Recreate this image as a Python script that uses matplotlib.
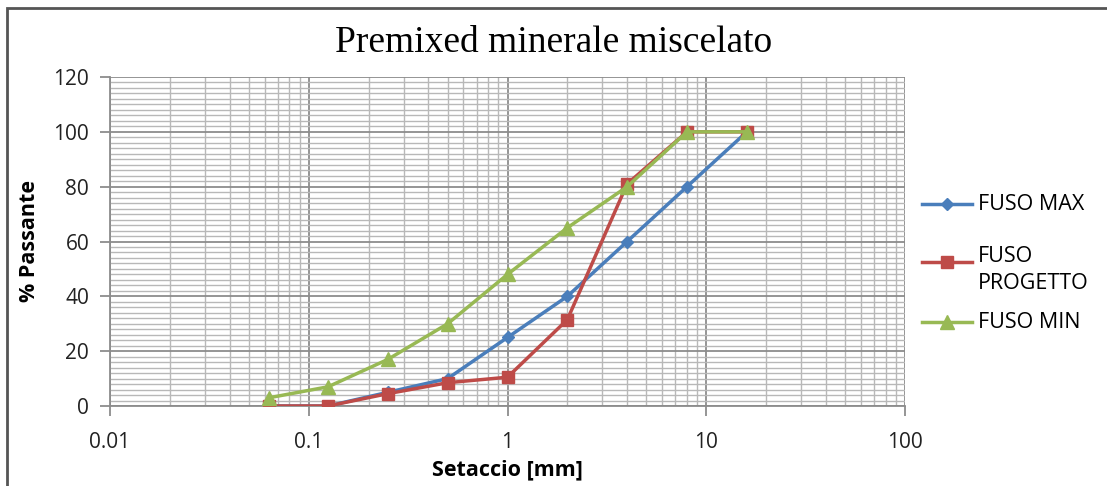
import numpy as np
import matplotlib.pyplot as plt
from matplotlib.lines import Line2D
from matplotlib.patches import Rectangle
from matplotlib.ticker import LogLocator, MultipleLocator, FixedLocator

# Curve granulometriche
setacci = [0.063, 0.125, 0.25, 0.5, 1, 2, 4, 8, 16]
fuso_max = [0, 0, 5, 10, 25, 40, 60, 80, 100]
fuso_progetto = [0, 0, 4.5, 8.5, 10.5, 31.5, 81, 100, 100]
fuso_min = [3, 7, 17, 30, 48, 65, 80, 100, 100]
etichette = ['FUSO MAX', 'FUSO\nPROGETTO', 'FUSO MIN']

clr_max = '#4a7ebb'
clr_prog = '#be4b48'
clr_min = '#98b954'

plt.rcParams['font.family'] = ['Open Sans', 'DejaVu Sans']

fig = plt.figure(figsize=(11.07, 4.86), dpi=100)
ax = fig.add_axes([110/1107, 1-406/486, 795/1107, 329/486])

ax.plot(setacci, fuso_max, '-D', color=clr_max, lw=2.5, ms=6, zorder=3)
ax.plot(setacci, fuso_progetto, '-s', color=clr_prog, lw=2.5, ms=8, zorder=4)
ax.plot(setacci, fuso_min, '-^', color=clr_min, lw=2.5, ms=10, zorder=5)

ax.set_xscale('log')
ax.set_xlim(0.01, 100)
ax.set_ylim(0, 120)
ax.xaxis.set_major_locator(FixedLocator([0.01, 0.1, 1, 10, 100]))
ax.set_xticklabels(['0.01', '0.1', '1', '10', '100'])
ax.xaxis.set_minor_locator(LogLocator(base=10, subs=np.arange(2, 10)))
ax.xaxis.set_minor_formatter(plt.NullFormatter())
ax.yaxis.set_major_locator(MultipleLocator(20))
ax.yaxis.set_minor_locator(MultipleLocator(2))

ax.grid(which='major', color='#8c8c8c', lw=1.3)
ax.grid(which='minor', color='#b8b8b8', lw=1.0)
ax.set_axisbelow(True)
ax.tick_params(which='major', length=7, width=1.3, color='#8c8c8c',
               labelsize=15, labelcolor='#222222', pad=8)
ax.tick_params(axis='x', pad=12)
ax.tick_params(which='minor', length=0)
for s in ['top', 'right']:
    ax.spines[s].set_visible(False)
for s in ['left', 'bottom']:
    ax.spines[s].set_color('#8c8c8c')
    ax.spines[s].set_linewidth(1.3)

ax.set_xlabel('Setaccio [mm]', fontsize=15.5, fontweight='bold', labelpad=4)
ax.set_ylabel('% Passante', fontsize=15.5, fontweight='bold', labelpad=10)
fig.text(0.5, 0.912, 'Premixed minerale miscelato', ha='center', va='center',
         fontsize=27, family='Liberation Serif')

# Legenda a destra
leg_y = [204, 262, 322]
leg_style = [(clr_max, 'D', 6), (clr_prog, 's', 8), (clr_min, '^', 10)]
for (c, mk, ms), lab, yp in zip(leg_style, etichette, leg_y):
    y = 1 - yp/486
    fig.add_artist(Line2D([922/1107, 972/1107], [y, y], color=c, lw=2.5))
    fig.add_artist(Line2D([947/1107], [y], color=c, marker=mk, ms=ms))
    if '\n' in lab:
        fig.text(978/1107, y + 0.033, lab, fontsize=15.5, va='top', ha='left',
                 linespacing=1.4)
    else:
        fig.text(978/1107, y, lab, fontsize=15.5, va='center', ha='left')

# Cornice dell'area grafico
fig.add_artist(Rectangle((7/1107, -0.1), 1.2, 1.1 - 8/486, transform=fig.transFigure,
                         fill=False, ec='#555555', lw=2))

fig.savefig('out.png', dpi=100)
